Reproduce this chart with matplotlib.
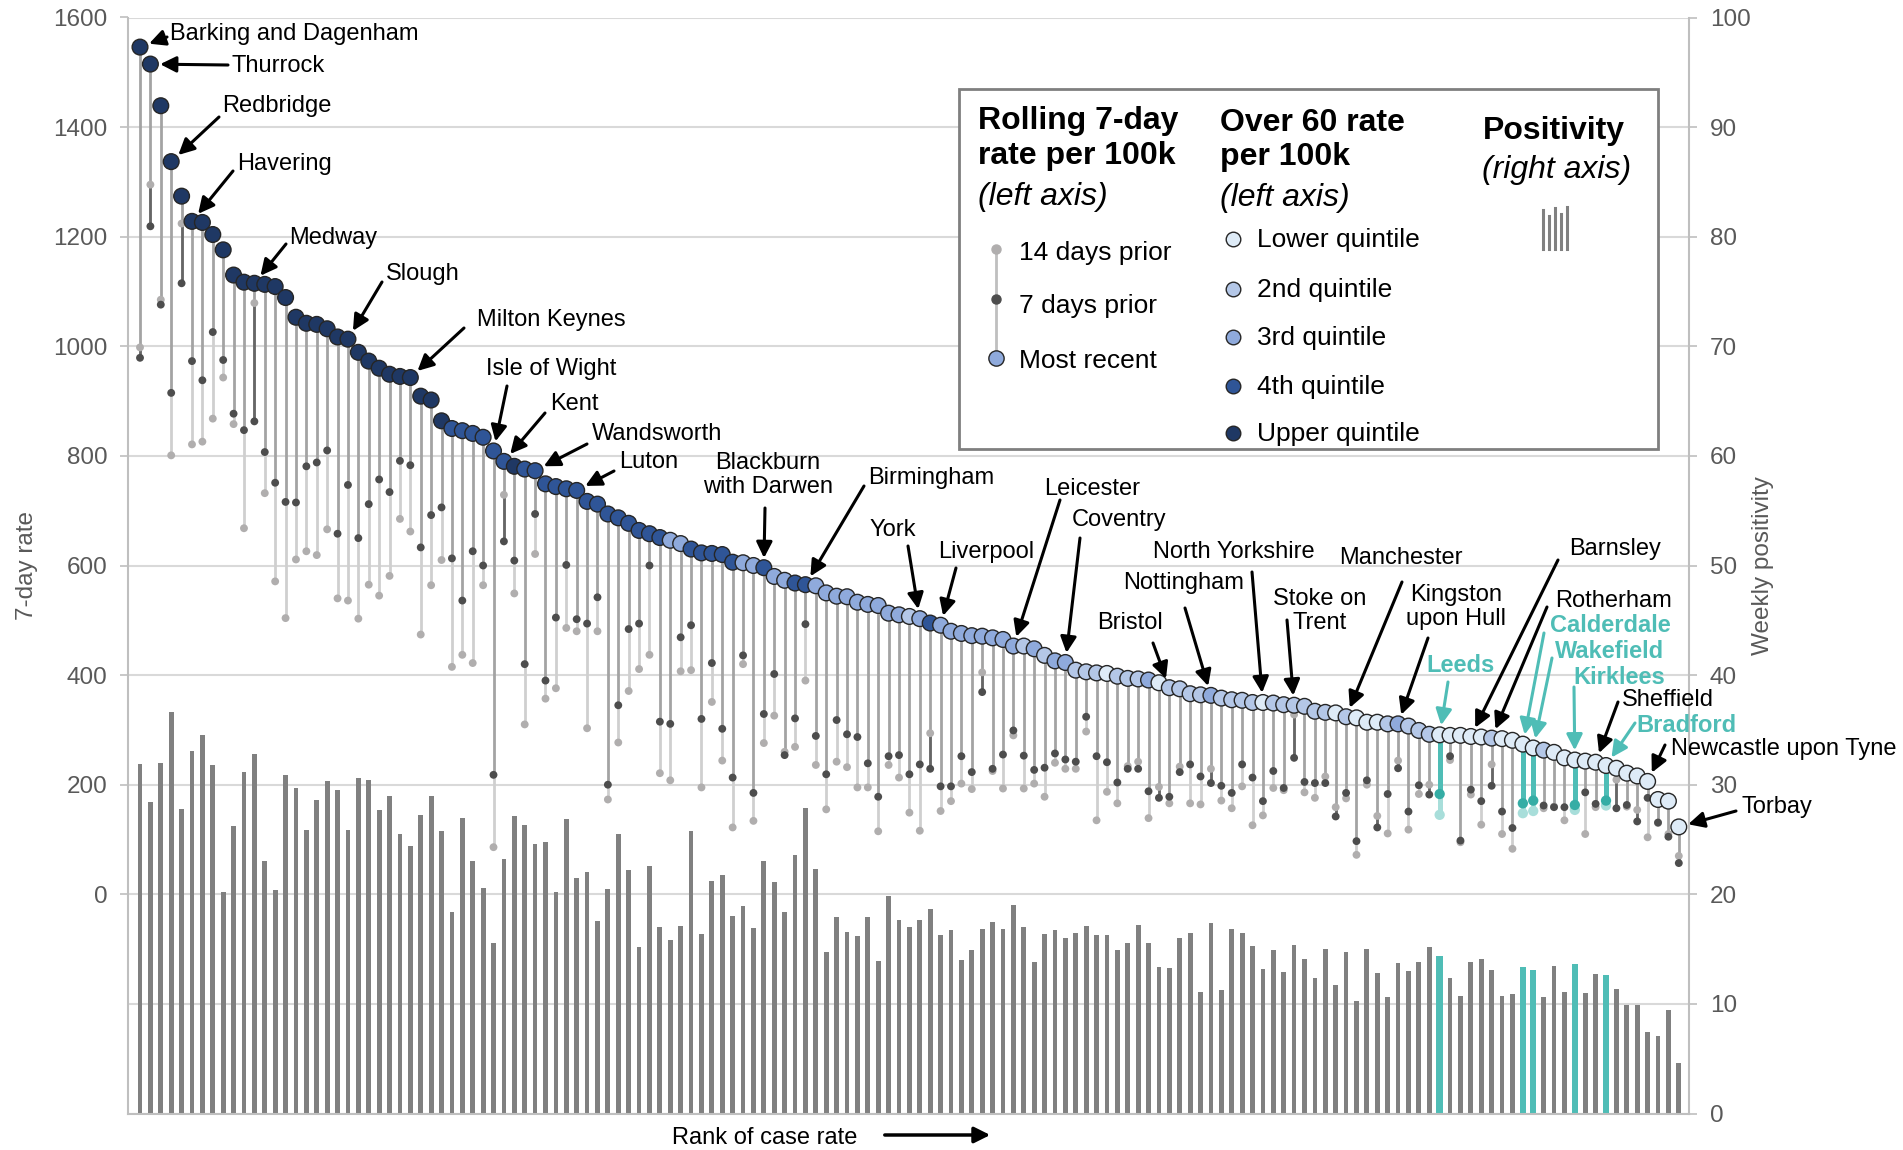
import matplotlib
matplotlib.use("Agg")
import matplotlib.pyplot as plt
import numpy as np
from matplotlib.patches import Rectangle
from matplotlib.lines import Line2D

plt.rcParams['font.family'] = ['Liberation Sans', 'DejaVu Sans']

# ---------------- data (ranked local authorities) ----------------
recent = [
    1546, 1515, 1439, 1337, 1274, 1228, 1226, 1204, 1176, 1130,
    1117, 1115, 1113, 1109, 1089, 1053, 1042, 1040, 1032, 1017,
    1013, 989, 973, 960, 949, 945, 943, 909, 902, 864,
    850, 846, 841, 834, 809, 790, 781, 776, 773, 749,
    744, 740, 737, 717, 712, 694, 687, 677, 664, 658,
    651, 646, 640, 630, 623, 622, 620, 606, 605, 600,
    596, 580, 573, 568, 565, 563, 550, 544, 543, 533,
    529, 527, 513, 510, 507, 503, 495, 491, 480, 476,
    472, 471, 468, 465, 453, 453, 448, 436, 426, 423,
    409, 406, 404, 403, 398, 394, 393, 391, 386, 377,
    375, 366, 364, 363, 358, 355, 354, 350, 350, 349,
    346, 345, 343, 334, 332, 331, 324, 322, 314, 314,
    311, 311, 307, 299, 292, 291, 290, 290, 288, 287,
    285, 284, 281, 274, 267, 263, 259, 249, 245, 243,
    241, 235, 230, 221, 216, 206, 173, 170, 123]

prior7 = [
    979, 1219, 1076, 915, 1115, 973, 938, 1026, 975, 877,
    847, 863, 807, 751, 716, 715, 781, 788, 810, 658,
    747, 650, 712, 757, 734, 791, 783, 633, 692, 706,
    613, 536, 626, 600, 218, 644, 609, 420, 694, 390,
    505, 601, 502, 494, 542, 200, 345, 484, 494, 600,
    315, 311, 469, 491, 320, 422, 302, 213, 436, 185,
    329, 402, 254, 321, 493, 289, 219, 318, 292, 287,
    239, 178, 252, 254, 219, 237, 229, 197, 197, 252,
    223, 369, 229, 255, 299, 253, 227, 231, 257, 246,
    242, 324, 252, 241, 204, 229, 229, 188, 176, 178,
    223, 237, 215, 203, 198, 185, 237, 213, 170, 225,
    194, 249, 205, 203, 203, 142, 185, 97, 208, 122,
    183, 230, 151, 199, 182, 183, 252, 98, 191, 170,
    198, 151, 121, 166, 171, 162, 159, 159, 163, 186,
    165, 171, 157, 163, 133, 176, 131, 105, 57]

prior14 = [
    998, 1295, 1085, 801, 1224, 821, 826, 868, 943, 858,
    668, 1079, 732, 571, 504, 611, 626, 619, 666, 540,
    536, 503, 565, 545, 581, 685, 662, 474, 564, 610,
    415, 437, 422, 564, 86, 729, 549, 310, 621, 357,
    376, 486, 480, 303, 480, 173, 277, 371, 411, 437,
    221, 208, 407, 409, 195, 351, 244, 122, 420, 134,
    276, 326, 260, 269, 390, 236, 155, 242, 232, 195,
    195, 115, 236, 213, 149, 116, 294, 152, 170, 202,
    192, 405, 225, 193, 290, 193, 202, 178, 240, 229,
    229, 297, 135, 187, 166, 234, 242, 139, 196, 166,
    233, 166, 164, 229, 171, 157, 197, 126, 144, 194,
    190, 328, 186, 176, 215, 159, 175, 72, 200, 143,
    111, 244, 118, 183, 200, 145, 245, 95, 182, 127,
    237, 110, 83, 148, 152, 157, 160, 135, 154, 110,
    159, 162, 209, 160, 154, 104, 130, 110, 70]

# over-60 rate quintile (1 = lower ... 5 = upper)
quintile = [
    5, 5, 5, 5, 5, 5, 5, 5, 5, 5,
    5, 5, 5, 5, 5, 5, 5, 5, 5, 5,
    5, 5, 5, 5, 5, 5, 5, 5, 5, 5,
    4, 4, 4, 4, 4, 4, 5, 4, 4, 4,
    4, 4, 4, 4, 4, 4, 4, 4, 4, 4,
    4, 3, 3, 4, 4, 4, 4, 4, 3, 3,
    4, 3, 3, 4, 4, 3, 3, 3, 3, 3,
    3, 3, 3, 3, 2, 3, 4, 3, 3, 3,
    3, 3, 3, 3, 3, 2, 3, 2, 3, 3,
    2, 2, 2, 1, 2, 2, 2, 3, 1, 2,
    2, 2, 2, 3, 2, 2, 2, 2, 1, 2,
    2, 2, 2, 2, 2, 1, 2, 1, 1, 1,
    2, 3, 2, 2, 2, 1, 1, 1, 1, 1,
    2, 1, 1, 1, 1, 2, 1, 1, 1, 1,
    1, 1, 1, 1, 1, 1, 1, 1, 1]

positivity = [
    31.9, 28.4, 32.0, 36.6, 27.8, 33.1, 34.5, 31.8, 20.2, 26.2,
    31.2, 32.8, 23.0, 20.4, 30.9, 29.7, 25.9, 28.6, 30.3, 29.5,
    25.9, 30.6, 30.4, 27.7, 29.0, 25.5, 24.4, 27.2, 29.0, 25.8,
    18.4, 27.0, 23.0, 20.6, 15.6, 23.2, 27.1, 26.3, 24.6, 24.8,
    20.2, 26.9, 21.5, 22.0, 17.6, 20.5, 25.5, 22.2, 15.2, 22.6,
    17.0, 15.8, 17.1, 25.8, 16.4, 21.2, 21.8, 18.0, 18.9, 16.9,
    23.0, 21.1, 18.4, 23.6, 27.9, 22.3, 14.7, 17.9, 16.6, 16.2,
    17.9, 13.9, 19.8, 17.7, 17.0, 17.7, 18.7, 16.3, 16.7, 14.0,
    14.9, 16.8, 17.5, 16.8, 19.0, 17.0, 13.8, 16.4, 16.7, 16.0,
    16.5, 17.1, 16.3, 16.3, 14.9, 15.6, 17.2, 15.6, 13.4, 13.3,
    16.0, 16.5, 11.1, 17.4, 11.3, 16.8, 16.5, 15.3, 13.2, 14.9,
    12.9, 15.4, 14.1, 12.4, 15.0, 11.7, 14.7, 10.3, 15.0, 12.8,
    10.6, 13.7, 13.0, 13.8, 15.2, 14.4, 12.4, 10.7, 13.8, 14.1,
    13.1, 10.7, 10.9, 13.4, 13.1, 10.6, 13.5, 11.1, 13.6, 11.0,
    12.7, 12.6, 11.4, 9.9, 9.9, 7.4, 7.1, 9.4, 4.6]

# West Yorkshire authorities highlighted in teal (ranks)
highlight = [126, 134, 135, 139, 142]

label_names = ["Barking and Dagenham", "Thurrock", "Redbridge", "Havering", "Medway",
               "Slough", "Milton Keynes", "Isle of Wight", "Kent", "Wandsworth", "Luton",
               "Blackburn\nwith Darwen", "Birmingham", "York", "Liverpool", "Leicester",
               "Coventry", "North Yorkshire", "Nottingham", "Bristol", "Stoke on\nTrent",
               "Manchester", "Kingston\nupon Hull", "Leeds", "Barnsley", "Rotherham",
               "Calderdale", "Wakefield", "Kirklees", "Sheffield", "Bradford",
               "Newcastle upon Tyne", "Torbay"]
label_ranks = [1, 2, 4, 6, 12, 21, 27, 35, 36, 39, 43, 61, 65, 76, 78, 85, 90, 109, 104,
               100, 112, 117, 122, 126, 129, 131, 134, 135, 139, 141, 142, 146, 149]

# layout of labels in figure pixels (from top-left): text pos, ha, arrow tail
label_layout = [
    ((170, 34), 'left', (167, 37)),
    ((231, 66), 'left', (228, 65)),
    ((222, 106), 'left', (219, 117)),
    ((237, 164), 'left', (233, 171)),
    ((289, 238), 'left', (286, 244)),
    ((386, 274), 'left', (382, 282)),
    ((477, 320), 'left', (464, 328)),
    ((486, 369), 'left', (507, 386)),
    ((550, 404), 'left', (545, 413)),
    ((592, 434), 'left', (587, 444)),
    ((619, 462), 'left', (614, 471)),
    ((768, 475), 'center', (765, 508)),
    ((868, 478), 'left', (864, 486)),
    ((870, 530), 'left', (908, 546)),
    ((938, 552), 'left', (956, 568)),
    ((1044, 489), 'left', (1060, 500)),
    ((1072, 520), 'left', (1080, 538)),
    ((1153, 552), 'left', (1252, 572)),
    ((1123, 583), 'left', (1185, 608)),
    ((1097, 623), 'left', (1153, 643)),
    ((1320, 611), 'center', (1287, 620)),
    ((1339, 558), 'left', (1402, 582)),
    ((1456, 607), 'center', (1428, 638)),
    ((1426, 666), 'left', (1448, 682)),
    ((1569, 549), 'left', (1558, 560)),
    ((1555, 601), 'left', (1547, 607)),
    ((1550, 626), 'left', (1544, 633)),
    ((1555, 652), 'left', (1552, 658)),
    ((1573, 677), 'left', (1574, 687)),
    ((1622, 700), 'left', (1618, 702)),
    ((1636, 725), 'left', (1635, 723)),
    ((1671, 749), 'left', (1665, 745)),
    ((1741, 807), 'left', (1736, 811)),
]

# ---------------- styling ----------------
W, H = 1903, 1150
Q_COLORS = {1: '#DEEBF7', 2: '#B4C7E7', 3: '#8FAADC', 4: '#2F5597', 5: '#1F3864'}
TEAL = '#4FBDB6'
TEAL_LIGHT = '#A8DEDA'
TEAL_DARK = '#35ADA5'
GREY_TXT = '#595959'


def fx(x):
    return x / W


def fy(y):
    return 1 - y / H


fig = plt.figure(figsize=(W / 100, H / 100), dpi=100)
AX_L, AX_R, AX_T, AX_B = 128, 1689, 17.5, 1113.5
ax2 = fig.add_axes([AX_L / W, 1 - AX_B / H, (AX_R - AX_L) / W, (AX_B - AX_T) / H])
ax = ax2.twinx()

x = np.arange(1, len(recent) + 1)

# positivity bars (right axis)
is_hl = np.array([r in highlight for r in x])
ax2.bar(x[~is_hl], np.array(positivity)[~is_hl], width=0.46, color='#808080', zorder=2)
ax2.bar(x[is_hl], np.array(positivity)[is_hl], width=0.62, color=TEAL, zorder=2)
ax2.set_ylim(0, 100)
ax2.set_yticks(range(0, 101, 10))
ax2.yaxis.tick_right()
ax2.yaxis.set_label_position('right')
ax2.set_axisbelow(True)
ax2.yaxis.grid(True, color='#D9D9D9', lw=1.5)
ax2.set_xticks([])
ax2.tick_params(axis='y', labelsize=17.5, labelcolor=GREY_TXT, length=6,
                color='#BFBFBF', width=1.2, pad=9)
for s in ['left', 'right', 'bottom']:
    ax2.spines[s].set_color('#BFBFBF')
    ax2.spines[s].set_linewidth(1.5)
ax2.spines['top'].set_visible(False)
ax2.set_ylabel('Weekly positivity', fontsize=17.5, color=GREY_TXT)
ax2.yaxis.set_label_coords((1752 - AX_L) / (AX_R - AX_L), 0.5)

# rate axis (left)
ax.yaxis.tick_left()
ax.yaxis.set_label_position('left')
ax.set_ylim(-400, 1600)
ax.set_yticks(range(0, 1601, 200))
ax.set_xlim(1 - 12 / 10.397, 149 + 10.2 / 10.397)
ax.set_xticks([])
ax.tick_params(axis='y', labelsize=17.5, labelcolor=GREY_TXT, length=6,
               color='#BFBFBF', width=1.2, pad=9)
for s in ax.spines.values():
    s.set_visible(False)
ax.set_ylabel('7-day rate', fontsize=17.5, color=GREY_TXT)
ax.yaxis.set_label_coords((38 - AX_L) / (AX_R - AX_L), 0.5)

# stems
for r, R, D, L in zip(x, recent, prior7, prior14):
    hl = r in highlight
    c1 = TEAL if hl else '#A3A3A3'
    c2 = TEAL_LIGHT if hl else '#CFCFCF'
    lw = 3.6 if hl else 2.0
    ax.vlines(r, min(R, D), max(R, D), color=c1, lw=lw, zorder=2)
    ax.vlines(r, min(D, L), max(D, L), color=c2, lw=lw, zorder=2)
    lo = max(min(R, D), min(D, L))
    hi = min(max(R, D), max(D, L))
    if hi > lo:
        ax.vlines(r, lo, hi, color=TEAL if hl else '#666666', lw=lw, zorder=2.5)

c14 = [TEAL_LIGHT if r in highlight else '#B0AEAE' for r in x]
c7 = [TEAL_DARK if r in highlight else '#4D4D4D' for r in x]
s_small = [55 if r in highlight else 32 for r in x]
ax.scatter(x, prior14, s=s_small, c=c14, zorder=3, linewidths=0)
ax.scatter(x, prior7, s=s_small, c=c7, zorder=4, linewidths=0)
ax.scatter(x, recent, s=128, c=[Q_COLORS[q] for q in quintile],
           edgecolors='#262626', linewidths=1.0, zorder=5)

# labels with arrows
for name, rank, ((tx, ty), ha, (ax_, ay_)) in zip(label_names, label_ranks, label_layout):
    teal = rank in highlight
    col = TEAL if teal else 'black'
    fig.text(fx(tx), fy(ty), name, ha=ha, va='center', fontsize=17, color=col,
             fontweight='bold' if teal else 'normal', linespacing=1.15, zorder=6)
    ax.annotate('', xy=(rank, recent[rank - 1]), xycoords='data',
                xytext=(fx(ax_), fy(ay_)), textcoords='figure fraction',
                arrowprops=dict(arrowstyle='-|>', color=col, lw=2.2,
                                mutation_scale=24, shrinkA=0, shrinkB=7),
                annotation_clip=False, zorder=6)

# x label with arrow
fig.text(fx(765), fy(1138), 'Rank of case rate', ha='center', va='center', fontsize=17)
fig.add_artist(matplotlib.patches.FancyArrowPatch(
    (fx(882), fy(1135)), (fx(993), fy(1135)), transform=fig.transFigure,
    arrowstyle='-|>', mutation_scale=24, color='black', lw=2.5))

# ---------------- legend box ----------------
fig.add_artist(Rectangle((fx(959), fy(449)), (1658 - 959) / W, (449 - 88.6) / H,
                         transform=fig.transFigure, facecolor='white',
                         edgecolor='#7F7F7F', lw=2, zorder=7))
TZ = 8
fig.text(fx(978), fy(138.5), 'Rolling 7-day\nrate per 100k', ha='left', va='center',
         fontsize=23, fontweight='bold', linespacing=1.2, zorder=TZ)
fig.text(fx(978), fy(197), '(left axis)', ha='left', va='center', fontsize=23,
         style='italic', zorder=TZ)
fig.add_artist(Line2D([fx(996.5), fx(996.5)], [fy(249), fy(358)], transform=fig.transFigure,
                      color='#BFBFBF', lw=2, zorder=TZ))
fig.add_artist(Line2D([fx(996.5)], [fy(249)], transform=fig.transFigure, marker='o', ms=6.5,
                      color='#B0AEAE', lw=0, zorder=TZ))
fig.add_artist(Line2D([fx(996.5)], [fy(299)], transform=fig.transFigure, marker='o', ms=6.5,
                      color='#4D4D4D', lw=0, zorder=TZ))
fig.add_artist(Line2D([fx(996.5)], [fy(358)], transform=fig.transFigure, marker='o', ms=11,
                      markerfacecolor='#8FAADC', markeredgecolor='#262626', mew=1.0,
                      lw=0, zorder=TZ))
for txt, yy in [('14 days prior', 253), ('7 days prior', 306), ('Most recent', 361)]:
    fig.text(fx(1019), fy(yy), txt, ha='left', va='center', fontsize=19, zorder=TZ)

fig.text(fx(1220), fy(140), 'Over 60 rate\nper 100k', ha='left', va='center',
         fontsize=23, fontweight='bold', linespacing=1.2, zorder=TZ)
fig.text(fx(1220), fy(198), '(left axis)', ha='left', va='center', fontsize=23,
         style='italic', zorder=TZ)
q_names = ['Lower quintile', '2nd quintile', '3rd quintile', '4th quintile', 'Upper quintile']
for q, (nm, yy) in enumerate(zip(q_names, [239, 289, 337, 386, 433]), start=1):
    fig.add_artist(Line2D([fx(1233)], [fy(yy)], transform=fig.transFigure, marker='o',
                          ms=10.5, markerfacecolor=Q_COLORS[q], markeredgecolor='#262626',
                          mew=1.0, lw=0, zorder=TZ))
    fig.text(fx(1257), fy(yy + 1), nm, ha='left', va='center', fontsize=19, zorder=TZ)

fig.text(fx(1554), fy(131), 'Positivity', ha='center', va='center', fontsize=23,
         fontweight='bold', zorder=TZ)
fig.text(fx(1557), fy(170), '(right axis)', ha='center', va='center', fontsize=23,
         style='italic', zorder=TZ)
for bx, top in zip([1543, 1549, 1555, 1561, 1567], [210, 216, 208, 214, 207]):
    fig.add_artist(Line2D([fx(bx), fx(bx)], [fy(249), fy(top)], transform=fig.transFigure,
                          color='#808080', lw=2.2, zorder=TZ))

fig.savefig('out.png', dpi=100)
